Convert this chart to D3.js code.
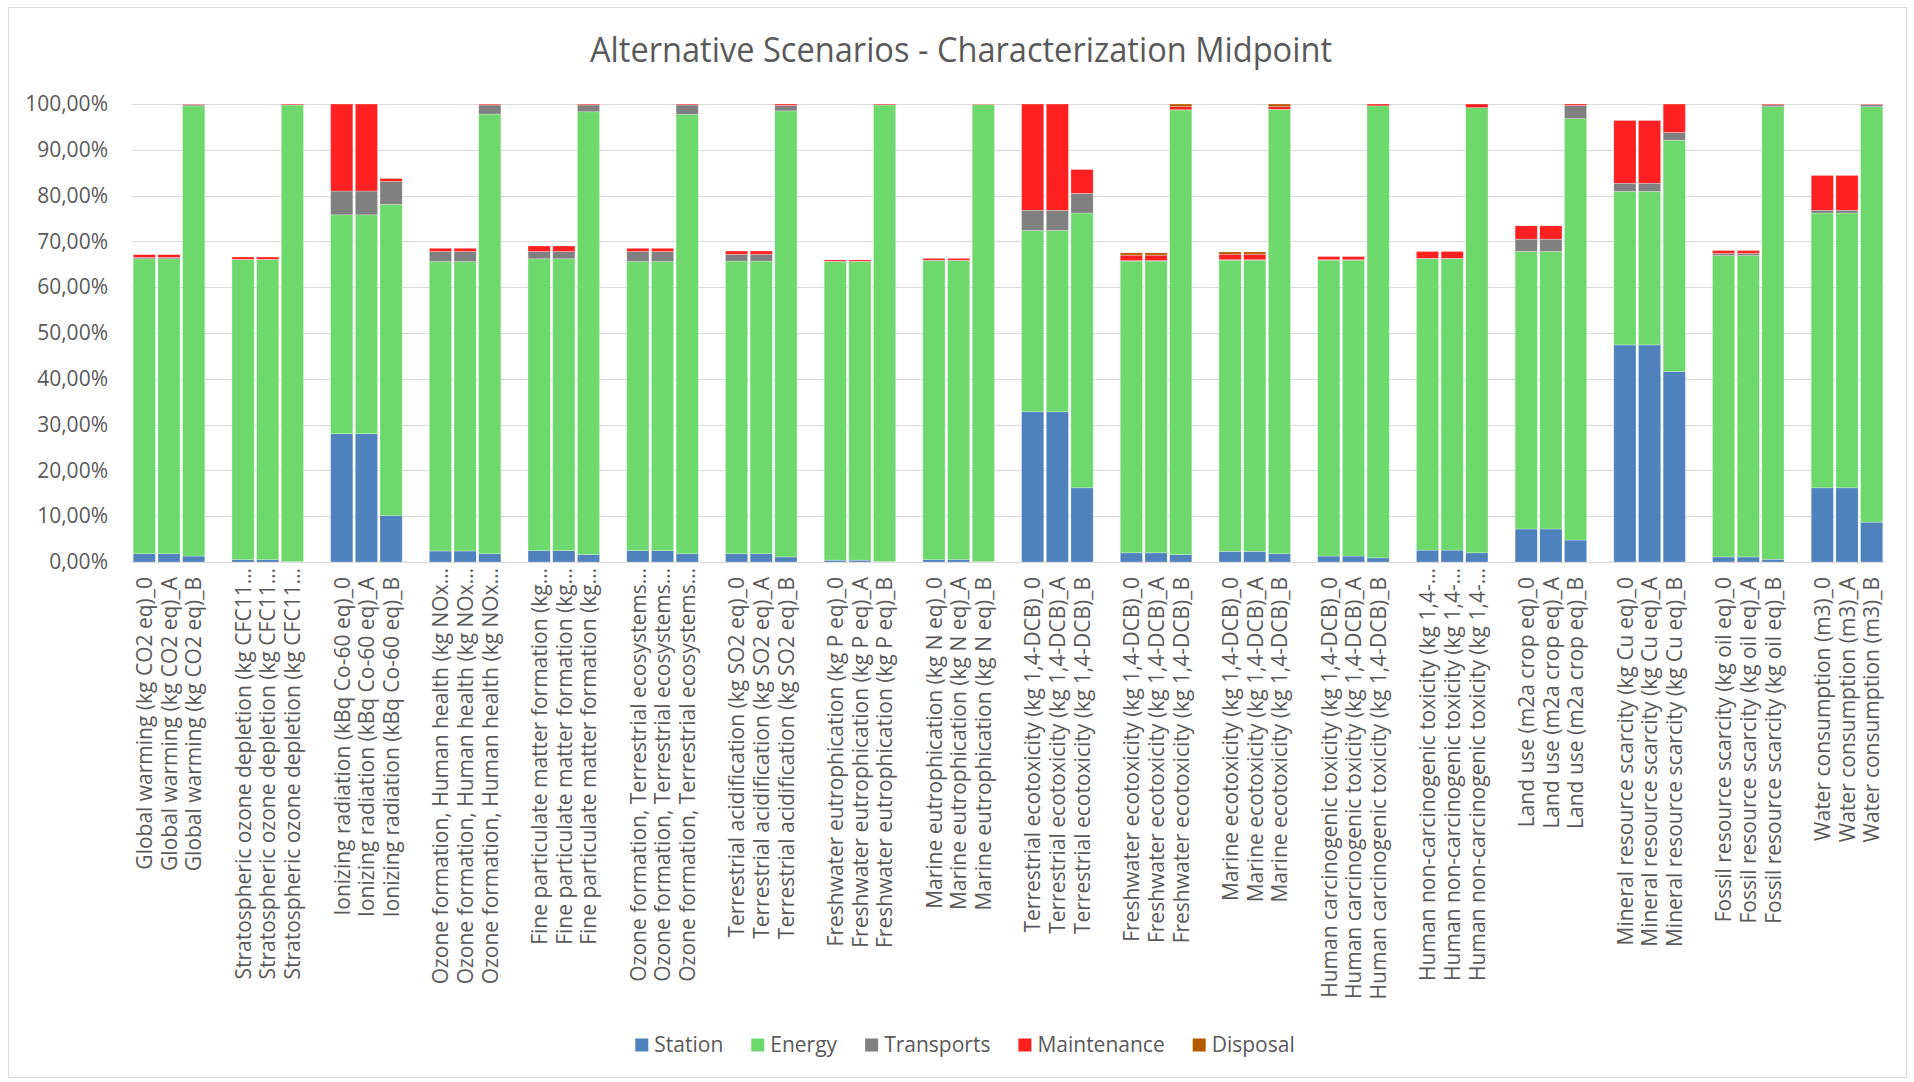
<!DOCTYPE html>
<html><head><meta charset="utf-8">
<script src="https://cdn.jsdelivr.net/npm/d3@7"></script>
<style>
html,body{margin:0;padding:0;background:#fff;}
svg{display:block;font-family:"Open Sans",sans-serif;}
</style></head><body>
<svg id="chart" width="1914" height="1082"></svg>
<script>
// ---------- DATA ----------
const title = "Alternative Scenarios - Characterization Midpoint";
const seriesNames = ["Station", "Energy", "Transports", "Maintenance", "Disposal"];
const seriesColors = ["#4F81BD", "#6DD96D", "#808080", "#FF2121", "#B35A00"];
const scenarios = ["0", "A", "B"];
const categories = [
  "Global warming (kg CO2 eq)",
  "Stratospheric ozone depletion (kg CFC11…",
  "Ionizing radiation (kBq Co-60 eq)",
  "Ozone formation, Human health (kg NOx…",
  "Fine particulate matter formation (kg…",
  "Ozone formation, Terrestrial ecosystems…",
  "Terrestrial acidification (kg SO2 eq)",
  "Freshwater eutrophication (kg P eq)",
  "Marine eutrophication (kg N eq)",
  "Terrestrial ecotoxicity (kg 1,4-DCB)",
  "Freshwater ecotoxicity (kg 1,4-DCB)",
  "Marine ecotoxicity (kg 1,4-DCB)",
  "Human carcinogenic toxicity (kg 1,4-DCB)",
  "Human non-carcinogenic toxicity (kg 1,4-…",
  "Land use (m2a crop eq)",
  "Mineral resource scarcity (kg Cu eq)",
  "Fossil resource scarcity (kg oil eq)",
  "Water consumption (m3)"
];
// tick labels (truncated ones are shown without scenario suffix, as in the source)
const tickLabels = [
  "Global warming (kg CO2 eq)_0","Global warming (kg CO2 eq)_A","Global warming (kg CO2 eq)_B",
  "Stratospheric ozone depletion (kg CFC11…","Stratospheric ozone depletion (kg CFC11…","Stratospheric ozone depletion (kg CFC11…",
  "Ionizing radiation (kBq Co-60 eq)_0","Ionizing radiation (kBq Co-60 eq)_A","Ionizing radiation (kBq Co-60 eq)_B",
  "Ozone formation, Human health (kg NOx…","Ozone formation, Human health (kg NOx…","Ozone formation, Human health (kg NOx…",
  "Fine particulate matter formation (kg…","Fine particulate matter formation (kg…","Fine particulate matter formation (kg…",
  "Ozone formation, Terrestrial ecosystems…","Ozone formation, Terrestrial ecosystems…","Ozone formation, Terrestrial ecosystems…",
  "Terrestrial acidification (kg SO2 eq)_0","Terrestrial acidification (kg SO2 eq)_A","Terrestrial acidification (kg SO2 eq)_B",
  "Freshwater eutrophication (kg P eq)_0","Freshwater eutrophication (kg P eq)_A","Freshwater eutrophication (kg P eq)_B",
  "Marine eutrophication (kg N eq)_0","Marine eutrophication (kg N eq)_A","Marine eutrophication (kg N eq)_B",
  "Terrestrial ecotoxicity (kg 1,4-DCB)_0","Terrestrial ecotoxicity (kg 1,4-DCB)_A","Terrestrial ecotoxicity (kg 1,4-DCB)_B",
  "Freshwater ecotoxicity (kg 1,4-DCB)_0","Freshwater ecotoxicity (kg 1,4-DCB)_A","Freshwater ecotoxicity (kg 1,4-DCB)_B",
  "Marine ecotoxicity (kg 1,4-DCB)_0","Marine ecotoxicity (kg 1,4-DCB)_A","Marine ecotoxicity (kg 1,4-DCB)_B",
  "Human carcinogenic toxicity (kg 1,4-DCB)_0","Human carcinogenic toxicity (kg 1,4-DCB)_A","Human carcinogenic toxicity (kg 1,4-DCB)_B",
  "Human non-carcinogenic toxicity (kg 1,4-…","Human non-carcinogenic toxicity (kg 1,4-…","Human non-carcinogenic toxicity (kg 1,4-…",
  "Land use (m2a crop eq)_0","Land use (m2a crop eq)_A","Land use (m2a crop eq)_B",
  "Mineral resource scarcity (kg Cu eq)_0","Mineral resource scarcity (kg Cu eq)_A","Mineral resource scarcity (kg Cu eq)_B",
  "Fossil resource scarcity (kg oil eq)_0","Fossil resource scarcity (kg oil eq)_A","Fossil resource scarcity (kg oil eq)_B",
  "Water consumption (m3)_0","Water consumption (m3)_A","Water consumption (m3)_B"
];
// values in % (order: per category, scenarios 0, A, B)
const station = [
  1.8,1.8,1.3,  0.5,0.5,0.1,  28.0,28.0,10.1,  2.4,2.4,1.8,  2.5,2.5,1.6,  2.5,2.5,1.8,
  1.8,1.8,1.1,  0.4,0.4,0.1,  0.5,0.5,0.1,  32.8,32.8,16.2,  2.0,2.0,1.6,  2.3,2.3,1.8,
  1.3,1.3,0.9,  2.6,2.6,2.0,  7.2,7.2,4.8,  47.4,47.4,41.6,  1.1,1.1,0.6,  16.2,16.2,8.7
];
const energy = [
  64.4,64.4,98.3,  65.5,65.5,99.7,  47.8,47.8,68.0,  63.2,63.2,96.0,  63.7,63.7,96.7,  63.1,63.1,95.9,
  63.9,63.9,97.4,  65.2,65.2,99.7,  65.3,65.3,99.8,  39.6,39.6,60.0,  63.7,63.7,97.1,  63.6,63.6,97.0,
  64.6,64.6,98.7,  63.6,63.6,97.2,  60.6,60.6,92.0,  33.5,33.5,50.5,  65.8,65.8,98.8,  60.0,60.0,90.7
];
const transports = [
  0.3,0.3,0.3,  0.1,0.1,0.0,  5.2,5.2,5.0,  2.2,2.2,2.0,  1.6,1.6,1.5,  2.2,2.2,2.1,
  1.5,1.5,1.2,  0.05,0.05,0.0,  0.1,0.1,0.0,  4.4,4.4,4.3,  0.1,0.1,0.05,  0.1,0.1,0.05,
  0.1,0.1,0.0,  0.1,0.1,0.0,  2.7,2.7,2.9,  1.8,1.8,1.7,  0.5,0.5,0.4,  0.6,0.6,0.5
];
const maintenance = [
  0.6,0.6,0.1,  0.5,0.5,0.2,  19.0,19.0,0.6,  0.7,0.7,0.2,  1.2,1.2,0.2,  0.7,0.7,0.2,
  0.7,0.7,0.3,  0.3,0.3,0.2,  0.4,0.4,0.1,  23.2,23.2,5.2,  1.2,1.2,0.7,  1.2,1.2,0.6,
  0.7,0.7,0.4,  1.5,1.5,0.8,  2.9,2.9,0.3,  13.7,13.7,6.2,  0.6,0.6,0.2,  7.6,7.6,0.1
];
const disposal = [
  0.05,0.05,0.0,  0.0,0.0,0.0,  0.0,0.0,0.1,  0.0,0.0,0.0,  0.0,0.0,0.0,  0.0,0.0,0.0,
  0.0,0.0,0.0,  0.0,0.0,0.0,  0.0,0.0,0.0,  0.0,0.0,0.0,  0.5,0.5,0.55,  0.5,0.5,0.55,
  0.0,0.0,0.0,  0.0,0.0,0.0,  0.0,0.0,0.0,  0.0,0.0,0.0,  0.0,0.0,0.0,  0.0,0.0,0.0
];
const yTicks = [0, 10, 20, 30, 40, 50, 60, 70, 80, 90, 100];

// ---------- BUILD ----------
const seriesValues = [station, energy, transports, maintenance, disposal];
const rows = tickLabels.map((lab, i) => {
  const r = { key: "c" + i, label: lab };
  seriesNames.forEach((s, j) => r[s] = seriesValues[j][i]);
  return r;
});
const domain = [];
categories.forEach((c, g) => {
  scenarios.forEach((s, k) => domain.push("c" + (g * 3 + k)));
  if (g < categories.length - 1) domain.push("gap" + g);
});

const W = 1914, H = 1082;
const plot = { left: 132, right: 1884, top: 104, bottom: 562 };
const svg = d3.select("#chart");
const textColor = "#595959";
const gridColor = "#D9D9D9";

svg.append("rect").attr("width", W).attr("height", H).attr("fill", "#fff");
svg.append("rect").attr("x", 8.5).attr("y", 7.5).attr("width", 1898).attr("height", 1070)
  .attr("fill", "none").attr("stroke", gridColor).attr("stroke-width", 1);

const x = d3.scaleBand().domain(domain).range([plot.left, plot.right])
  .paddingInner(0.1).paddingOuter(0.05);
const y = d3.scaleLinear().domain([0, 100]).range([plot.bottom, plot.top]);

const locale = d3.formatLocale({ decimal: ",", thousands: ".", grouping: [3], currency: ["", "€"] });
const fmt = v => locale.format(".2f")(v) + "%";

// gridlines
svg.append("g").selectAll("line").data(yTicks).join("line")
  .attr("x1", plot.left).attr("x2", plot.right)
  .attr("y1", d => Math.round(y(d)) + 0.5).attr("y2", d => Math.round(y(d)) + 0.5)
  .attr("stroke", gridColor).attr("stroke-width", 1.2);

// y axis labels
const yAxis = d3.axisLeft(y).tickValues(yTicks).tickFormat(fmt).tickSize(0).tickPadding(0);
const yg = svg.append("g").attr("transform", `translate(108,0)`).call(yAxis);
yg.select(".domain").remove();
yg.selectAll("text").attr("fill", textColor).attr("font-size", 21)
  .attr("font-family", '"Open Sans", sans-serif');

// stacked bars
const stack = d3.stack().keys(seriesNames);
const stacked = stack(rows);
svg.append("g").selectAll("g").data(stacked).join("g")
  .attr("fill", (d, i) => seriesColors[i])
  .selectAll("rect").data(d => d.map(v => ({ v, key: v.data.key })).filter(o => o.v[1] - o.v[0] > 0))
  .join("rect")
  .attr("x", o => x(o.key))
  .attr("width", x.bandwidth())
  .attr("y", o => y(o.v[1]))
  .attr("height", o => y(o.v[0]) - y(o.v[1]))
  .attr("stroke", "#ffffff").attr("stroke-opacity", 0.45).attr("stroke-width", 0.6);

// x axis labels
const xAxis = d3.axisBottom(x).tickValues(rows.map(r => r.key))
  .tickFormat(k => rows.find(r => r.key === k).label).tickSize(0).tickPadding(0);
const xg = svg.append("g").attr("transform", `translate(0,${plot.bottom})`).call(xAxis);
xg.select(".domain").remove();
xg.selectAll(".tick text")
  .attr("fill", textColor).attr("font-size", 21).attr("font-family", '"Open Sans", sans-serif')
  .attr("text-anchor", "end")
  .attr("transform", function (k) {
    const lab = rows.find(r => r.key === k).label;
    const top = lab.endsWith("…") ? 6 : 15;
    return `translate(0,${top}) rotate(-90)`;
  })
  .attr("x", 0).attr("y", 0).attr("dy", "0.37em");

// title
svg.append("text").attr("x", 961).attr("y", 62).attr("text-anchor", "middle")
  .attr("font-size", 34).attr("fill", textColor)
  .attr("textLength", 742).attr("lengthAdjust", "spacingAndGlyphs")
  .text(title);

// legend
const lg = svg.append("g");
const legendY = 1045, sq = 13, gapSq = 6, gapItem = 28;
const items = seriesNames.map((s, i) => {
  const g = lg.append("g");
  g.append("rect").attr("width", sq).attr("height", sq).attr("y", -sq / 2).attr("fill", seriesColors[i]);
  const t = g.append("text").attr("x", sq + gapSq).attr("dy", "0.35em")
    .attr("font-size", 21).attr("fill", textColor).text(s);
  return { g, w: sq + gapSq + t.node().getComputedTextLength() };
});
const total = d3.sum(items, d => d.w) + gapItem * (items.length - 1);
let cx = 965 - total / 2;
items.forEach(it => { it.g.attr("transform", `translate(${cx},${legendY})`); cx += it.w + gapItem; });
</script>
</body></html>
